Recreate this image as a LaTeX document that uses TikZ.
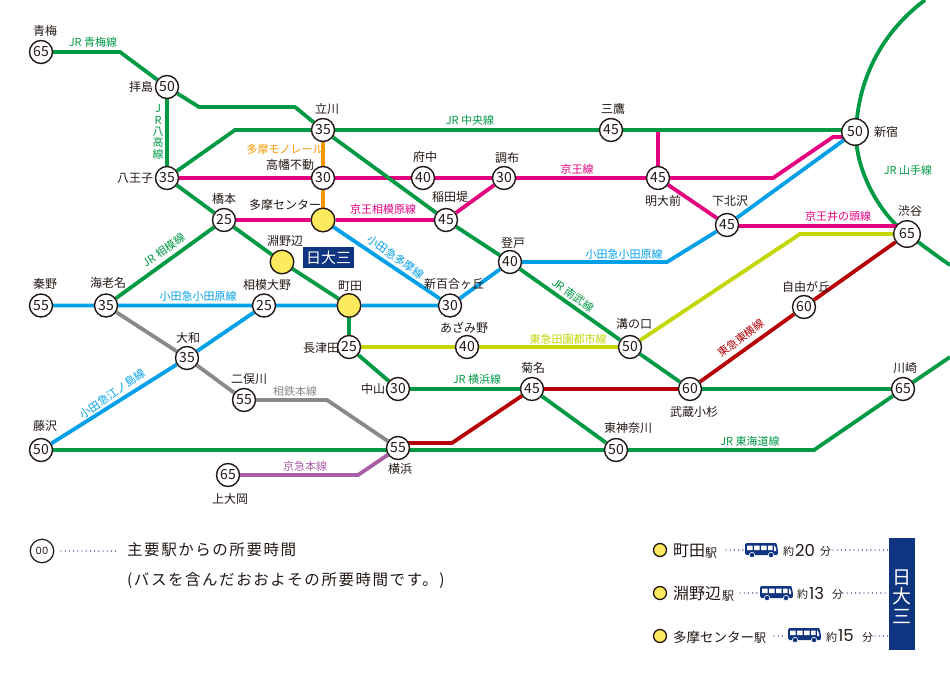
\documentclass[tikz,border=0pt]{standalone}
\usepackage{fontspec}
\setmainfont{Noto Sans CJK JP}
\newfontfamily\jpwide[LetterSpace=10]{Noto Sans CJK JP}
\newfontfamily\numfont{Poppins}
\usetikzlibrary{backgrounds}
\definecolor{inkc}{HTML}{231815}
\definecolor{jrc}{HTML}{009944}
\definecolor{keioc}{HTML}{E4007F}
\definecolor{odakyuc}{HTML}{00A0E9}
\definecolor{monoc}{HTML}{F39800}
\definecolor{sotetsuc}{HTML}{898989}
\definecolor{keikyuc}{HTML}{A95FA5}
\definecolor{tokyuc}{HTML}{B60005}
\definecolor{denenc}{HTML}{C3D600}
\definecolor{navyc}{HTML}{0F3480}
\definecolor{yellowc}{HTML}{FFEA5F}
\newcommand{\fsz}[1]{\fontsize{#1}{#1}\selectfont}
\tikzset{
	station/.style={circle, draw=inkc, line width=1.4, fill=white, minimum size=23, inner sep=0, text=inkc, font=\fsz{14}},
	stop/.style={circle, draw=inkc, line width=1.4, fill=yellowc, minimum size=23.6, inner sep=0},
	stname/.style={text=inkc, inner sep=0, font=\fsz{12}},
	linename/.style={inner sep=0, font=\fsz{11}},
	track/.style={line width=3.8},
	dotline/.style={navyc, line width=1.4, line cap=round, dash pattern=on 0pt off 4.2pt},
	keystop/.style={circle, draw=inkc, line width=1.3, fill=yellowc, minimum size=13, inner sep=0},
	keytext/.style={text=inkc, inner sep=0, anchor=west},
	pics/busicon/.style={code={
		\fill[navyc, rounded corners=1.5] (0,0) -- (29,0) .. controls (32,0) and (33,6) .. (33,12) -- (0,12) -- cycle;
		\fill[white] (2,2.5) rectangle (7.5,7) (9,2.5) rectangle (14.5,7) (16,2.5) rectangle (21.5,7) (23,2.5) rectangle (27.5,7);
		\fill[white] (29,2) .. controls (30.5,3) and (31,5) .. (31.3,8) -- (29,8) -- cycle;
		\fill[navyc, draw=white, line width=0.6] (7,12) circle (2.7) (26,12) circle (2.7);
	}}
}
\begin{document}
\begin{tikzpicture}[x=1pt, y=-1pt]
	\useasboundingbox (0,0) rectangle (950,680);

	\node[station] (ome) at (41,52) {65};
	\node[station] (haijima) at (167,87) {50};
	\node[station] (hachioji) at (167,178) {35};
	\node[station] (hashimoto) at (224,220) {25};
	\node[station] (tachikawa) at (323,130) {35};
	\node[station] (takahata) at (323,178) {30};
	\node[stop] (tama) at (323,220) {};
	\node[stop] (fuchinobe) at (282,262) {};
	\node[stop] (machida) at (349,305.5) {};
	\node[station] (sagamiono) at (264,305.5) {25};
	\node[station] (ebina) at (106,305.5) {35};
	\node[station] (hadano) at (41,305.5) {55};
	\node[station] (yamato) at (187,358) {35};
	\node[station] (futamata) at (244,400) {55};
	\node[station] (fujisawa) at (41,450) {50};
	\node[station] (nagatsuta) at (349,347) {25};
	\node[station] (nakayama) at (398,389) {30};
	\node[station] (azamino) at (467,347) {40};
	\node[station] (shinyuri) at (450,305.5) {30};
	\node[station] (noborito) at (510,262) {40};
	\node[station] (inada) at (446,220) {45};
	\node[station] (fuchu) at (423,178) {40};
	\node[station] (chofu) at (504,178) {30};
	\node[station] (mitaka) at (611,130) {45};
	\node[station, minimum size=26.5] (shinjuku) at (855,132) {50};
	\node[station] (meidai) at (658,178) {45};
	\node[station] (shimokita) at (727,225) {45};
	\node[station, minimum size=26.5] (shibuya) at (907,234) {65};
	\node[station] (jiyugaoka) at (804,307) {60};
	\node[station] (mizonokuchi) at (630,347) {50};
	\node[station] (kosugi) at (690,389) {60};
	\node[station] (kikuna) at (532,389) {45};
	\node[station] (yokohama) at (398,448) {55};
	\node[station] (higashik) at (616,450) {50};
	\node[station] (kawasaki) at (903,389) {65};
	\node[station] (kamiooka) at (228,475) {65};

	\coordinate (omebend) at (120,52);
	\coordinate (haijimabenda) at (199,107);
	\coordinate (haijimabendb) at (295,107);
	\coordinate (chuobend) at (235,130);
	\coordinate (chuoend) at (855,130);
	\coordinate (tokaidobend) at (814,450);
	\coordinate (tokaidoend) at (950,357);
	\coordinate (keiobenda) at (773,178);
	\coordinate (keiobendb) at (833,137);
	\coordinate (keioend) at (855,137);
	\coordinate (meidaiup) at (658,130);
	\coordinate (inokashirastart) at (727,226);
	\coordinate (inokashiraend) at (900,226);
	\coordinate (odakyubend) at (667,262);
	\coordinate (sotetsubend) at (327,400);
	\coordinate (keikyubend) at (358,475);
	\coordinate (tokyuend) at (398,443);
	\coordinate (tokyubend) at (452,443);
	\coordinate (denenbend) at (800,234);
	\coordinate (yamanotetop) at (925,0);
	\coordinate (yamanoteend) at (950,265);

	\begin{scope}[on background layer]
		\draw[track, jrc] (yamanotetop) .. controls (885,30) and (858,75) .. (856,132) .. controls (855,170) and (880,215) .. (shibuya.center) .. controls (920,243) and (935,255) .. (yamanoteend);
		\draw[track, keioc] (hachioji) -- (takahata) -- (fuchu) -- (chofu) -- (meidai) -- (keiobenda) -- (keiobendb) -- (keioend);
		\draw[track, keioc] (meidaiup) -- (meidai) -- (shimokita);
		\draw[track, keioc] (hashimoto) -- (tama) -- (inada) -- (chofu);
		\draw[track, keioc] (inokashirastart) -- (inokashiraend);
		\draw[track, monoc] (tachikawa) -- (tama);
		\draw[track, jrc] (ome) -- (omebend) -- (haijima) -- (haijimabenda) -- (haijimabendb) -- (tachikawa) -- (inada) -- (noborito) -- (mizonokuchi) -- (kosugi);
		\draw[track, jrc] (haijima) -- (hachioji) -- (chuobend) -- (tachikawa) -- (mitaka) -- (chuoend);
		\draw[track, jrc] (hachioji) -- (hashimoto) -- (fuchinobe) -- (machida) -- (nagatsuta) -- (nakayama) -- (kikuna) -- (higashik);
		\draw[track, jrc] (hashimoto) -- (ebina);
		\draw[track, jrc] (fujisawa) -- (higashik) -- (tokaidobend) -- (kawasaki) -- (tokaidoend);
		\draw[track, jrc] (kosugi) -- (kawasaki);
		\draw[track, odakyuc] (hadano) -- (ebina) -- (sagamiono) -- (machida) -- (shinyuri) -- (noborito) -- (odakyubend) -- (shimokita) -- (shinjuku);
		\draw[track, odakyuc] (tama) -- (shinyuri);
		\draw[track, odakyuc] (fujisawa) -- (yamato) -- (sagamiono);
		\draw[track, sotetsuc] (ebina) -- (yamato) -- (futamata) -- (sotetsubend) -- (yokohama);
		\draw[track, keikyuc] (kamiooka) -- (keikyubend) -- (yokohama);
		\draw[track, tokyuc] (tokyuend) -- (tokyubend) -- (kikuna) -- (kosugi) -- (jiyugaoka) -- (shibuya);
		\draw[track, denenc] (nagatsuta) -- (azamino) -- (mizonokuchi) -- (denenbend) -- (shibuya);
	\end{scope}

	\node[stname] (omename) at (45,31) {青梅};
	\node[stname] (haijimaname) at (141,87) {拝島};
	\node[stname] (hachiojiname) at (135,178) {八王子};
	\node[stname] (hashimotoname) at (224,199) {橋本};
	\node[stname] (tachikawaname) at (327,109) {立川};
	\node[stname] (takahataname) at (290,165) {高幡不動};
	\node[stname] (tamaname) at (285,205) {多摩センター};
	\node[stname] (fuchinobename) at (285,241) {淵野辺};
	\node[stname] (sagamiononame) at (267,285) {相模大野};
	\node[stname] (machidaname) at (350,286) {町田};
	\node[stname] (fuchuname) at (425,157) {府中};
	\node[stname] (chofuname) at (507,158) {調布};
	\node[stname] (inadaname) at (450,197) {稲田堤};
	\node[stname] (noboritoname) at (513,243) {登戸};
	\node[stname] (shinyuriname) at (454,284) {新百合ヶ丘};
	\node[stname] (azaminoname) at (464,328) {あざみ野};
	\node[stname] (mitakaname) at (613,109) {三鷹};
	\node[stname] (shinjukuname) at (886,132) {新宿};
	\node[stname] (meidainame) at (663,201) {明大前};
	\node[stname] (shimokitaname) at (730,201) {下北沢};
	\node[stname] (shibuyaname) at (910,211) {渋谷};
	\node[stname] (jiyugaokaname) at (806,287) {自由が丘};
	\node[stname] (mizonokuchiname) at (634,324) {溝の口};
	\node[stname] (kosuginame) at (694,412) {武蔵小杉};
	\node[stname] (kikunaname) at (533,368) {菊名};
	\node[stname] (nakayamaname) at (373,389) {中山};
	\node[stname] (nagatsutaname) at (321,348) {長津田};
	\node[stname] (higashikname) at (628,428) {東神奈川};
	\node[stname] (kawasakiname) at (905,368) {川崎};
	\node[stname] (yokohamaname) at (400,469) {横浜};
	\node[stname] (kamiookaname) at (230,499) {上大岡};
	\node[stname] (futamataname) at (249,379) {二俣川};
	\node[stname] (yamatoname) at (188,338) {大和};
	\node[stname] (ebinaname) at (108,283) {海老名};
	\node[stname] (hadanoname) at (45,284) {秦野};
	\node[stname] (fujisawaname) at (45,426) {藤沢};

	\node[linename, jrc] (omeline) at (93,42) {JR 青梅線};
	\node[linename, jrc, align=center, font=\fontsize{11}{11.3}\selectfont] (hachikoline) at (158,132) {J\\R\\八\\高\\線};
	\node[linename, monoc] (monoline) at (285,149) {多摩モノレール};
	\node[linename, jrc] (chuoline) at (470,120) {JR 中央線};
	\node[linename, keioc] (keioline) at (577,169) {京王線};
	\node[linename, keioc] (sagamiharaline) at (383,209) {京王相模原線};
	\node[linename, keioc] (inokashiraline) at (838,216) {京王井の頭線};
	\node[linename, odakyuc, rotate=-35] (tamaline) at (396,257) {小田急多摩線};
	\node[linename, jrc, rotate=36] (sagamiline) at (164,250) {JR 相模線};
	\node[linename, odakyuc] (odawaraline) at (198,296) {小田急小田原線};
	\node[linename, odakyuc] (odawaralineb) at (624,254) {小田急小田原線};
	\node[linename, jrc, rotate=-36] (nanbuline) at (573,295) {JR 南武線};
	\node[linename, odakyuc, rotate=35] (enoshimaline) at (113,394) {小田急江ノ島線};
	\node[linename, denenc] (denenline) at (568,339) {東急田園都市線};
	\node[linename, jrc] (yokohamaline) at (477,379) {JR 横浜線};
	\node[linename, tokyuc, rotate=36] (toyokoline) at (741,338) {東急東横線};
	\node[linename, sotetsuc] (sotetsuline) at (295,391) {相鉄本線};
	\node[linename, keikyuc] (keikyuline) at (305,466) {京急本線};
	\node[linename, jrc] (tokaidoline) at (750,441) {JR 東海道線};
	\node[linename, jrc] (yamanoteline) at (908,170) {JR 山手線};

	\node[fill=navyc, text=white, minimum width=51, minimum height=21, inner sep=0, font=\fsz{15}] (schoolbox) at (328.5,257.5) {日大三};

	\node[station, line width=1.2, minimum size=23.5, font=\numfont\fsz{10}] (keyfrom) at (42,551) {00};
	\coordinate (keydots) at (61,551);
	\coordinate (keyto) at (119,551);
	\draw[dotline] (keydots) -- (keyto);
	\node[keytext, font=\jpwide\fsz{15.5}] (keytexta) at (127,550) {主要駅からの所要時間};
	\node[keytext, font=\jpwide\fsz{15.5}] (keytextb) at (127,580) {(バスを含んだおおよその所要時間です。)};

	\node[fill=navyc, minimum width=26, minimum height=112, inner sep=0] (school) at (902,594) {};
	\node[text=white, inner sep=0, align=center, font=\fontsize{19}{19.5}\selectfont] (schooltext) at (902,596.5) {日\\大\\三};

	\node[keystop] (keymachida) at (660,550) {};
	\node[keytext, font=\fsz{16}] (namemachida) at (673,551) {町田};
	\node[keytext, font=\fsz{12}] (ekimachida) at (705,553) {駅};
	\coordinate (dotsa) at (726,550);
	\coordinate (dotsb) at (744,550);
	\pic at (745,543) {busicon};
	\node[keytext, font=\fsz{11}] (aboutmachida) at (783,551) {約};
	\node[keytext, font=\numfont\fsz{16.5}] (minmachida) at (795,550) {20};
	\node[keytext, font=\fsz{11}] (unitmachida) at (820,551) {分};
	\coordinate (dotsc) at (833,550);
	\draw[dotline] (dotsa) -- (dotsb);
	\draw[dotline] (dotsc) -- (school.west |- dotsc);

	\node[keystop] (keyfuchinobe) at (660,593) {};
	\node[keytext, font=\fsz{16}] (namefuchinobe) at (673,594) {淵野辺};
	\node[keytext, font=\fsz{12}] (ekifuchinobe) at (722,596) {駅};
	\coordinate (dotsd) at (740,593);
	\coordinate (dotse) at (758,593);
	\pic at (760,586) {busicon};
	\node[keytext, font=\fsz{11}] (aboutfuchinobe) at (797,594) {約};
	\node[keytext, font=\numfont\fsz{16.5}] (minfuchinobe) at (809,593) {13};
	\node[keytext, font=\fsz{11}] (unitfuchinobe) at (832,594) {分};
	\coordinate (dotsf) at (843,593);
	\draw[dotline] (dotsd) -- (dotse);
	\draw[dotline] (dotsf) -- (school.west |- dotsf);

	\node[keystop] (keytama) at (660,636) {};
	\node[keytext, font=\fsz{13.5}] (nametama) at (673,637) {多摩センター};
	\node[keytext, font=\fsz{12}] (ekitama) at (754,638) {駅};
	\coordinate (dotsg) at (774,636);
	\coordinate (dotsh) at (785,636);
	\pic at (788,628) {busicon};
	\node[keytext, font=\fsz{11}] (abouttama) at (826,637) {約};
	\node[keytext, font=\numfont\fsz{16.5}] (mintama) at (838,636) {15};
	\node[keytext, font=\fsz{11}] (unittama) at (862,637) {分};
	\coordinate (dotsi) at (875,636);
	\draw[dotline] (dotsg) -- (dotsh);
	\draw[dotline] (dotsi) -- (school.west |- dotsi);
\end{tikzpicture}
\end{document}
